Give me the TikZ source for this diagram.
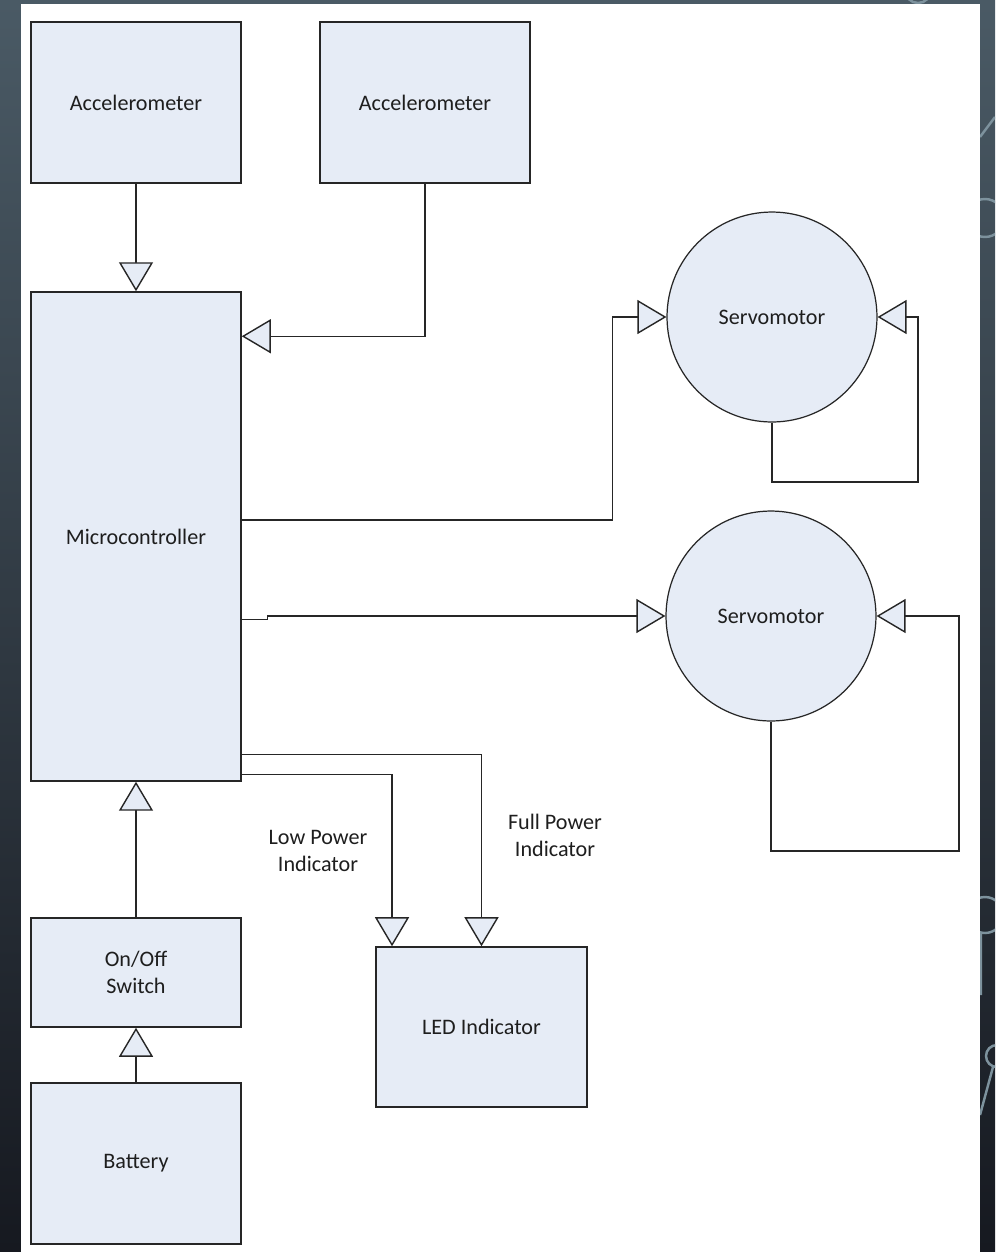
\documentclass[tikz,border=0pt]{standalone}
\usepackage{fontspec}
\setmainfont{Carlito}
\usetikzlibrary{arrows.meta}
\definecolor{boxfill}{RGB}{230,236,246}
\definecolor{linecol}{RGB}{38,38,38}
\definecolor{textcol}{RGB}{30,30,30}
\definecolor{bgtop}{RGB}{74,90,101}
\definecolor{bgbot}{RGB}{22,25,32}
\definecolor{decocol}{RGB}{125,146,157}
\begin{document}
\begin{tikzpicture}[
    x=0.02cm, y=-0.02cm,
    every node/.style={font=\fontsize{12.6}{15.4}\selectfont, text=textcol, align=center},
    block/.style={draw=linecol, fill=boxfill, line width=0.9pt, minimum width=4.2cm, inner sep=0pt},
    servo/.style={circle, draw=linecol, fill=boxfill, line width=0.7pt, minimum size=4.2cm, inner sep=0pt},
    link/.style={draw=linecol, line width=0.8pt},
    flow/.style={link, -{Triangle[length=0.58cm, width=0.68cm, fill=boxfill, line width=0.8pt]}},
    deco/.style={draw=decocol, line width=1.4pt}]

  \useasboundingbox (0,0) rectangle (995,1252);
  \clip (0,0) rectangle (995,1252);
  \fill[top color=bgtop, bottom color=bgbot] (0,0) rectangle (995,1252);
  \draw[deco] (918,-10) circle (13);
  \draw[deco] (980,137) -- (995,117);
  \draw[deco] (985,218) circle (19);
  \draw[deco] (985,915) circle (18) (981,933) -- (981,995);
  \draw[deco] (997,1056) circle (11) (993,1067) -- (980,1115);
  \fill[white] (21,4) rectangle (980,1252);

  \node[block, minimum height=3.22cm] (acc1) at (136,102.5) {Accelerometer};
  \node[block, minimum height=3.22cm] (acc2) at (425,102.5) {Accelerometer};
  \node[block, minimum height=9.78cm] (mcu) at (136,536.5) {Microcontroller};
  \node[block, minimum height=2.18cm] (onoff) at (136,972.5) {On/Off\\Switch};
  \node[block, minimum height=3.22cm] (battery) at (136,1163.5) {Battery};
  \node[block, minimum width=4.22cm, minimum height=3.2cm] (led) at (481.5,1027) {LED Indicator};
  \node[servo] (servoA) at (772,317) {Servomotor};
  \node[servo] (servoB) at (771,616) {Servomotor};
  \node (lowlbl) at (318,851) {Low Power\\Indicator};
  \node (fulllbl) at (555,835) {Full Power\\Indicator};

  \coordinate (loopA) at (918,482);
  \coordinate (loopB) at (959,851);

  \draw[flow] (acc1.south) -- (mcu.north);
  \draw[flow] (acc2.south) |- ([yshift=-0.9cm]mcu.north east);
  \draw[flow] ([yshift=0.33cm]mcu.east) -| ([xshift=-1.08cm]servoA.west) -- (servoA.west);
  \draw[flow] (servoA.south) |- (loopA) |- (servoA.east);
  \draw[flow] ([yshift=-1.66cm]mcu.east) -- ++(0.52cm,0) |- (servoB.west);
  \draw[flow] (servoB.south) |- (loopB) |- (servoB.east);
  \draw[flow] ([yshift=0.54cm]mcu.south east) -| (led.north);
  \draw[flow] ([yshift=0.14cm]mcu.south east) -| ([xshift=-1.79cm]led.north);
  \draw[flow] (onoff.north) -- (mcu.south);
  \draw[flow] (battery.north) -- (onoff.south);
\end{tikzpicture}
\end{document}
